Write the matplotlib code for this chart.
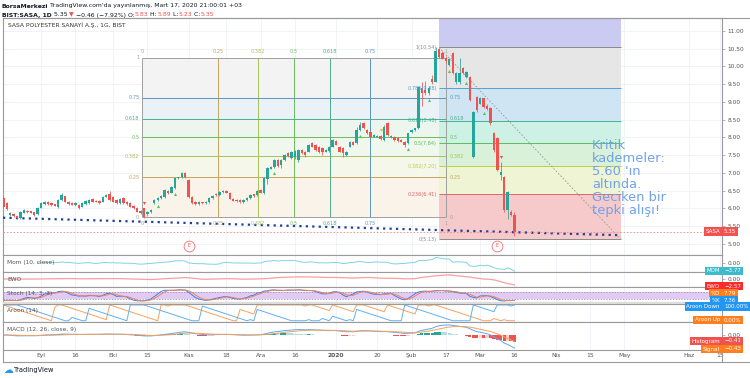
import matplotlib.pyplot as plt
import numpy as np
import pandas as pd
from matplotlib import transforms

# bar index 0 = 2 Eylul 2019, one bar per trading day
first_bar = -11
opens = [6.30, 6.15, 5.82, 5.84, 5.78, 5.73, 5.88, 5.93, 5.92, 5.89,
         5.84, 6.02, 6.12, 6.19, 6.15, 6.12, 6.03, 6.25, 6.34, 6.19,
         6.15, 6.10, 6.10, 6.05, 6.12, 6.15, 6.28, 6.22, 6.21, 6.19,
         6.33, 6.40, 6.33, 6.24, 6.16, 6.29, 6.19, 6.15, 6.08, 6.01,
         5.93, 6.00, 5.84, 5.90, 6.15, 6.24, 6.30, 6.32, 6.50, 6.45,
         6.58, 6.85, 6.88, 7.00, 6.80, 6.32, 6.18, 6.12, 6.17, 6.16,
         6.18, 6.30, 6.42, 6.38, 6.47, 6.50, 6.45, 6.28, 6.24, 6.25,
         6.18, 6.23, 6.30, 6.40, 6.38, 6.52, 6.45, 6.82, 7.12, 7.17,
         7.37, 7.23, 7.37, 7.56, 7.41, 7.45, 7.37, 7.65, 7.60, 7.60,
         7.85, 7.80, 7.74, 7.70, 7.60, 7.62, 7.74, 7.90, 7.74, 7.70,
         7.52, 7.74, 7.88, 7.84, 8.21, 8.42, 8.21, 8.15, 8.02, 8.02,
         8.04, 7.93, 8.40, 8.00, 8.02, 7.98, 7.93, 7.88, 7.84, 8.16,
         8.21, 8.26, 9.39, 9.35, 9.25, 9.65, 9.57, 10.50, 10.38, 10.24,
         10.05, 10.38, 9.55, 9.55, 9.96, 9.70, 9.70, 7.45, 9.14, 8.95,
         9.10, 8.90, 8.83, 8.13, 7.99, 6.95, 6.89, 5.96, 5.90, 5.83]
highs = [6.36, 6.19, 5.90, 5.86, 5.80, 5.93, 5.98, 5.95, 5.94, 5.91,
         6.03, 6.17, 6.20, 6.21, 6.17, 6.14, 6.27, 6.45, 6.36, 6.21,
         6.17, 6.17, 6.12, 6.17, 6.23, 6.26, 6.30, 6.24, 6.23, 6.35,
         6.40, 6.48, 6.36, 6.26, 6.29, 6.31, 6.21, 6.17, 6.10, 6.03,
         5.95, 6.02, 5.93, 5.98, 6.26, 6.32, 6.37, 6.54, 6.52, 6.62,
         6.87, 6.90, 7.02, 7.02, 6.82, 6.34, 6.20, 6.20, 6.19, 6.20,
         6.32, 6.37, 6.44, 6.49, 6.52, 6.52, 6.47, 6.30, 6.26, 6.27,
         6.27, 6.32, 6.40, 6.42, 6.52, 6.54, 6.88, 7.17, 7.20, 7.39,
         7.39, 7.39, 7.53, 7.58, 7.62, 7.64, 7.67, 7.67, 7.62, 7.81,
         7.88, 7.82, 7.76, 7.72, 7.67, 7.76, 7.95, 7.92, 7.76, 7.72,
         7.62, 7.90, 7.90, 8.30, 8.45, 8.45, 8.24, 8.17, 8.09, 8.06,
         8.06, 8.35, 8.45, 8.07, 8.04, 8.00, 7.95, 7.90, 8.14, 8.23,
         8.28, 9.45, 9.55, 9.60, 9.45, 9.75, 10.54, 10.52, 10.45, 10.30,
         10.25, 10.40, 9.85, 10.25, 9.98, 9.87, 9.72, 8.75, 9.17, 9.14,
         9.12, 8.93, 8.85, 8.15, 8.01, 7.30, 6.92, 6.50, 5.95, 5.89]
lows = [6.02, 5.95, 5.80, 5.76, 5.70, 5.71, 5.86, 5.86, 5.86, 5.80,
        5.82, 6.00, 6.10, 6.10, 6.08, 6.06, 6.01, 6.22, 6.17, 6.10,
        6.09, 6.08, 5.99, 6.03, 6.10, 6.13, 6.17, 6.17, 6.14, 6.17,
        6.31, 6.22, 6.17, 6.14, 6.14, 6.14, 6.10, 6.03, 5.99, 5.89,
        5.84, 5.73, 5.80, 5.86, 6.13, 6.22, 6.28, 6.30, 6.42, 6.43,
        6.56, 6.82, 6.86, 6.86, 6.30, 6.13, 6.10, 6.10, 6.14, 6.14,
        6.16, 6.28, 6.36, 6.36, 6.45, 6.43, 6.26, 6.20, 6.18, 6.16,
        6.16, 6.21, 6.28, 6.33, 6.36, 6.43, 6.40, 6.70, 7.10, 7.15,
        7.18, 7.15, 7.35, 7.46, 7.39, 7.40, 7.30, 7.54, 7.44, 7.58,
        7.72, 7.62, 7.56, 7.50, 7.58, 7.60, 7.72, 7.78, 7.58, 7.46,
        7.48, 7.72, 7.78, 7.82, 8.19, 8.24, 8.10, 8.00, 8.00, 8.00,
        7.93, 7.91, 8.05, 7.98, 7.91, 7.88, 7.86, 7.72, 7.82, 8.14,
        8.19, 8.24, 8.90, 9.20, 9.20, 9.50, 9.55, 10.25, 10.20, 10.10,
        10.00, 9.80, 9.50, 9.50, 9.80, 9.68, 9.04, 7.42, 8.72, 8.93,
        8.83, 8.78, 8.36, 7.60, 7.05, 6.80, 5.90, 5.70, 5.80, 5.23]
closes = [6.05, 5.98, 5.86, 5.78, 5.73, 5.91, 5.96, 5.89, 5.88, 5.82,
          6.01, 6.15, 6.18, 6.12, 6.10, 6.08, 6.25, 6.38, 6.19, 6.12,
          6.11, 6.15, 6.01, 6.15, 6.21, 6.24, 6.19, 6.19, 6.16, 6.33,
          6.38, 6.24, 6.19, 6.16, 6.27, 6.16, 6.12, 6.05, 6.01, 5.91,
          5.86, 5.77, 5.91, 5.96, 6.24, 6.30, 6.35, 6.52, 6.45, 6.60,
          6.85, 6.88, 7.00, 6.88, 6.32, 6.15, 6.12, 6.18, 6.16, 6.18,
          6.30, 6.35, 6.38, 6.47, 6.50, 6.45, 6.28, 6.22, 6.20, 6.18,
          6.25, 6.30, 6.38, 6.35, 6.50, 6.45, 6.85, 7.15, 7.17, 7.37,
          7.20, 7.37, 7.51, 7.48, 7.60, 7.62, 7.65, 7.56, 7.50, 7.79,
          7.74, 7.65, 7.60, 7.60, 7.65, 7.74, 7.93, 7.80, 7.60, 7.56,
          7.60, 7.88, 7.80, 8.21, 8.35, 8.28, 8.12, 8.02, 8.07, 8.04,
          7.95, 8.30, 8.07, 8.05, 7.93, 7.90, 7.88, 7.79, 8.12, 8.21,
          8.26, 9.43, 9.25, 9.25, 9.40, 9.55, 10.45, 10.27, 10.22, 10.15,
          10.20, 9.82, 9.82, 9.82, 9.82, 9.85, 9.06, 8.72, 8.77, 9.12,
          8.85, 8.80, 8.41, 7.65, 7.08, 7.03, 5.96, 6.46, 5.82, 5.35]

buy_marks = [34, 39, 68, 93, 107, 113, 119, 124, 129]
warn_marks = [99]
sell_marks = [30, 134]
earnings_bars = [43, 133]

tick_idx = [0, 10, 21, 31, 43, 54, 64, 74, 86, 98, 108, 118, 128, 138, 150, 160, 170, 189, 198]
tick_lbl = ['Eyl', '16', 'Eki', '15', 'Kas', '18', 'Ara', '16', '2020', '20', 'Şub', '17',
            'Mar', '16', 'Nis', '15', 'May', 'Haz', '15']

# drawings
box_bars = [29.5, 118]
box_prices = [5.76, 10.24]
box_levels = [0, 0.25, 0.382, 0.5, 0.618, 0.75, 1]
fib_bars = [116, 169]
fib_prices = [5.13, 10.54]
fib_ratios = [0, 0.236, 0.382, 0.5, 0.618, 0.786, 1]
fib_labels = ['0(5.13)', '0.236(6.41)', '0.382(7.20)', '0.5(7.84)', '0.618(8.48)', '0.786(9.38)', '1(10.54)']
trend_bars = [-11.1, 168]
trend_prices = [5.74, 5.25]
last_price = 5.35

W, H = 750, 378


def box(x0, y0, x1, y1):
    return [x0 / W, 1 - y1 / H, (x1 - x0) / W, (y1 - y0) / H]


idx = np.arange(first_bar, first_bar + len(closes))
o = np.array(opens)
c = np.array(closes)
hi = np.array(highs)
lo = np.array(lows)

cs = pd.Series(c)
hs = pd.Series(hi)
ls = pd.Series(lo)
mom = cs - cs.shift(10)
ewo = cs.rolling(5, min_periods=1).mean() - cs.rolling(35, min_periods=1).mean()
ll = ls.rolling(14, min_periods=1).min()
hh = hs.rolling(14, min_periods=1).max()
k_raw = 100 * (cs - ll) / (hh - ll)
stoch_k = k_raw.rolling(3, min_periods=1).mean()
stoch_d = stoch_k.rolling(3, min_periods=1).mean()
aroon_up = hs.rolling(15, min_periods=1).apply(lambda w: 100 * (14 - np.argmax(w[::-1])) / 14, raw=True)
aroon_dn = ls.rolling(15, min_periods=1).apply(lambda w: 100 * (14 - np.argmin(w[::-1])) / 14, raw=True)
macd = cs.ewm(span=12, adjust=False).mean() - cs.ewm(span=26, adjust=False).mean()
signal = macd.ewm(span=9, adjust=False).mean()
hist = macd - signal

fig = plt.figure(figsize=(7.5, 3.78), dpi=100)
ax = fig.add_axes(box(3, 18, 722, 255))
ax_mom = fig.add_axes(box(3, 255, 722, 272))
ax_ewo = fig.add_axes(box(3, 272, 722, 287))
ax_sto = fig.add_axes(box(3, 287, 722, 302))
ax_aro = fig.add_axes(box(3, 304, 722, 322))
ax_macd = fig.add_axes(box(3, 322, 722, 350))

for a in [ax, ax_mom, ax_ewo, ax_sto, ax_aro, ax_macd]:
    a.set_xlim(-11.1, 198.5)
    a.set_xticks(tick_idx, tick_lbl)
    a.tick_params(axis='x', length=0, labelbottom=False)
    a.grid(axis='x', color='#eef1f6', lw=0.6)
    a.set_axisbelow(True)
    a.yaxis.tick_right()
    a.tick_params(axis='y', length=2, width=0.5, color='#9a9a9a', labelsize=4.2,
                  labelcolor='#555555', pad=2)
    for s in a.spines.values():
        s.set_color('#9a9a9a')
        s.set_linewidth(0.8)

# ---- main price panel
ax.set_ylim(4.69, 11.366)
yt = np.arange(5.0, 11.01, 0.5)
ax.set_yticks(yt, [f'{v:.2f}' for v in yt])
ax.grid(axis='y', color='#eef1f6', lw=0.6)

# left fib box
bx0, bx1 = box_bars
bp0, bp1 = box_prices
box_colors = ['#a0a0a0', '#c9a45c', '#a9c25a', '#6fba5e', '#4fae8c', '#5b95c4', '#a0a0a0']
box_fills = ['#f9f3ea', '#f5f7ea', '#f0f7ec', '#ecf6ef', '#eaf2f7', '#f3f3f3']
for k in range(6):
    p_a = bp0 + box_levels[k] * (bp1 - bp0)
    p_b = bp0 + box_levels[k + 1] * (bp1 - bp0)
    ax.fill_between([bx0, bx1], p_a, p_b, color=box_fills[k], lw=0, zorder=1)
for lev, col in zip(box_levels, box_colors):
    p = bp0 + lev * (bp1 - bp0)
    xv = bx0 + lev * (bx1 - bx0)
    ax.hlines(p, bx0, bx1, color=col, lw=0.7, zorder=2)
    ax.vlines(xv, bp0, bp1, color=col, lw=0.7, zorder=2)
    lab = f'{lev:g}'
    kw = dict(textcoords='offset pixels', fontsize=3.6, color=col, zorder=6)
    ax.annotate(lab, (bx0, p), xytext=(-3, 0), ha='right', va='center', **kw)
    ax.annotate(lab, (bx1, p), xytext=(4, 0), ha='left', va='center', **kw)
    ax.annotate(lab, (xv, bp1), xytext=(0, 4), ha='center', va='bottom', **kw)
    ax.annotate(lab, (xv, bp0), xytext=(0, -4), ha='center', va='top', **kw)

# right fib retracement
fx0, fx1 = fib_bars
f_lo, f_hi = fib_prices
fib_line_colors = ['#8a8a8a', '#e06666', '#bccf45', '#5cbf5c', '#3fb596', '#5a9fd4', '#8a8a8a']
fib_fill_colors = ['#f6caca', '#eef4d4', '#d8f1d8', '#cdf1e5', '#d0e5f4', '#e6e6e6']
fib_p = [f_lo + r * (f_hi - f_lo) for r in fib_ratios]
for k in range(6):
    ax.fill_between([fx0, fx1], fib_p[k], fib_p[k + 1], color=fib_fill_colors[k], lw=0, zorder=1)
ax.fill_between([fx0, fx1], f_hi, f_lo + 1.618 * (f_hi - f_lo), color='#cacaf2', lw=0, zorder=1)
for p, col, lab in zip(fib_p, fib_line_colors, fib_labels):
    ax.hlines(p, fx0, fx1, color=col, lw=0.7, zorder=2)
    ax.annotate(lab, (fx0, p), xytext=(-2, 0), textcoords='offset pixels', ha='right',
                va='center', fontsize=3.6, color=col, zorder=6)
ax.plot([fx0, fx1], [f_hi, f_lo], ls=(0, (2, 2)), color='#9a9a9a', lw=0.6, zorder=3)

# trend line and last price line
ax.plot(trend_bars, trend_prices, color='#1f3f9c', lw=1.6, ls=(0, (1, 1.9)), zorder=3)
ax.axhline(last_price, color='#f08a8a', lw=0.6, ls=(0, (2, 2)), zorder=3)

# candles
col = np.where(c >= o, '#26a69a', '#ef5350')
ax.vlines(idx, lo, hi, colors=col, lw=0.55, zorder=4)
ax.bar(idx, np.maximum(np.abs(c - o), 0.02), bottom=np.minimum(o, c), width=0.7,
       color=col, lw=0, zorder=5)

below = transforms.offset_copy(ax.transData, fig=fig, y=-5, units='dots')
above = transforms.offset_copy(ax.transData, fig=fig, y=5, units='dots')
bm = np.array(buy_marks) - first_bar
ax.scatter(idx[bm], lo[bm], marker='^', s=5, color='#5cbf5c', lw=0, zorder=6, transform=below)
wm = np.array(warn_marks) - first_bar
ax.scatter(idx[wm], hi[wm], marker='v', s=5, color='#e8c020', lw=0, zorder=6, transform=above)
sm = np.array(sell_marks) - first_bar
ax.scatter(idx[sm], hi[sm], marker='v', s=5, color='#ef5350', lw=0, zorder=6, transform=above)

ax.scatter(earnings_bars, [0.038] * len(earnings_bars), s=60, facecolor='white',
           edgecolor='#f07070', lw=0.6, transform=ax.get_xaxis_transform(), zorder=6, clip_on=False)
for e in earnings_bars:
    ax.text(e, 0.038, 'E', transform=ax.get_xaxis_transform(), ha='center', va='center',
            fontsize=3.6, color='#e05050', zorder=7)

# ---- Mom
ax_mom.set_ylim(-4.24, 3.8)
ax_mom.set_yticks([0], ['0.00'])
ax_mom.plot(idx, mom, color='#7fd3e3', lw=0.7)

# ---- EWO
ax_ewo.set_ylim(-3.43, 3.0)
ax_ewo.set_yticks([0], ['0.00'])
ax_ewo.plot(idx, ewo, color='#f7a1a1', lw=0.9)

# ---- Stoch
ax_sto.set_ylim(-6, 123)
ax_sto.set_yticks([])
ax_sto.axhspan(20, 80, color='#e2caf6', lw=0, zorder=0.6)
ax_sto.axhline(80, color='#8a8a8a', lw=0.5, ls=(0, (2, 2)))
ax_sto.axhline(20, color='#8a8a8a', lw=0.5, ls=(0, (2, 2)))
ax_sto.plot(idx, stoch_k, color='#3f7fe8', lw=0.7)
ax_sto.plot(idx, stoch_d, color='#f0845a', lw=0.7)

# ---- Aroon
ax_aro.set_ylim(-8, 106)
ax_aro.set_yticks([])
ax_aro.plot(idx, aroon_up, color='#f6a25f', lw=0.7)
ax_aro.plot(idx, aroon_dn, color='#5fb0f5', lw=0.7)

# ---- MACD (zero line 13 px below the top, last MACD value 2 px above the bottom)
m_end = abs(macd.iloc[-1])
ax_macd.set_ylim(-m_end * 15 / 13, m_end)
ax_macd.set_yticks([0], ['0.00'])
hv = hist.values
prev = np.r_[hv[0], hv[:-1]]
hcol = np.where(hv >= 0, np.where(hv >= prev, '#26a69a', '#b2dfdb'),
                np.where(hv < prev, '#ef5350', '#ffcdd2'))
ax_macd.bar(idx, hv, width=0.95, color=hcol, lw=0)
ax_macd.plot(idx, macd, color='#5fa8f2', lw=0.7)
ax_macd.plot(idx, signal, color='#f5a05a', lw=0.7)
ax_macd.tick_params(axis='x', labelbottom=True, labelsize=4.3, labelcolor='#555555', pad=2.5)
for t in ax_macd.get_xticklabels():
    if t.get_text() == '2020':
        t.set_fontweight('bold')

# ---- overlay in pixel coordinates
bg = fig.add_axes([0, 0, 1, 1], zorder=10)
bg.set_xlim(0, W)
bg.set_ylim(H, 0)
bg.axis('off')
bg.patch.set_alpha(0)

bg.fill_between([3, 722], 302.3, 303.7, color='#dcdcdc', lw=0)
bg.plot([3, 750], [18, 18], color='#9a9a9a', lw=0.8)
bg.plot([3, 750], [362, 362], color='#9a9a9a', lw=0.8)
bg.plot([3, 3], [350, 362], color='#9a9a9a', lw=0.8)
bg.plot([722, 722], [350, 362], color='#9a9a9a', lw=0.8)


def rainbow(x, y, parts, size):
    t = bg.text(x, y, parts[0][0], color=parts[0][1], fontweight=parts[0][2],
                fontsize=size, va='bottom')
    for s, cl, wt in parts[1:]:
        t = bg.annotate(s, xy=(1, 0), xycoords=t, va='bottom', color=cl,
                        fontweight=wt, fontsize=size)


dark = '#131722'
red = '#ef5350'
rainbow(2, 8.5, [('BorsaMerkezi', dark, 'bold'),
                 (" TradingView.com'da yayınlanmış, Mart 17, 2020 21:00:01 +03", dark, 'normal')], 4.4)
rainbow(2, 17.5, [('BIST:SASA, 1D', dark, 'bold'), (' 5.35 ', dark, 'normal'), ('▼', red, 'normal'),
                  (' −0.46 (−7.92%) O:', dark, 'normal'), ('5.83', red, 'normal'),
                  (' H:', dark, 'normal'), ('5.89', red, 'normal'), (' L:', dark, 'normal'),
                  ('5.23', red, 'normal'), (' C:', dark, 'normal'), ('5.35', red, 'normal')], 4.4)
bg.text(8, 25, 'SASA POLYESTER SANAYİ A.Ş., 1G, BIST', fontsize=4.3, color='#333333', va='center')

for y, name in [(262.5, 'Mom (10, close)'), (279.5, 'EWO'), (294, 'Stoch (14, 3, 3)'),
                (310.5, 'Aroon (14)'), (329, 'MACD (12, 26, close, 9)')]:
    bg.text(7, y, name, fontsize=4.2, color='#555555', va='center')


def tag(y, name, value, color):
    kw = dict(fontsize=4.0, color='white', va='center',
              bbox=dict(boxstyle='square,pad=0.3', fc=color, ec='none'))
    bg.text(724, y, value, ha='left', **kw)
    bg.text(720, y, name, ha='right', **kw)


tag(231.6, 'SASA', '5.35', '#f05350')
tag(271, 'MOM', '−3.77', '#3bbccd')
tag(286, 'EWO', '−2.57', '#ff2a2a')
tag(293.3, '%D', '7.79', '#ff7f1f')
tag(300, '%K', '7.36', '#2196f3')
tag(306.5, 'Aroon Down', '100.00%', '#2196f3')
tag(320, 'Aroon Up', '0.00%', '#ff7f1f')
tag(341, 'Histogram', '−0.41', '#ef5350')
tag(349, 'Signal', '−0.43', '#ff7f1f')

bg.text(592, 139, 'Kritik\nkademeler:\n5.60 \'ın\naltında.\nGeciken bir\ntepki alışı!',
        fontsize=9.4, color='#6fa3ea', va='top', ha='left', linespacing=1.0)

bg.text(3, 370, '☁', color='#2196f3', fontsize=7, va='center')
bg.text(14, 370, 'TradingView', color=dark, fontsize=4.8, va='center')

fig.savefig('out.png', dpi=100, facecolor='white')
